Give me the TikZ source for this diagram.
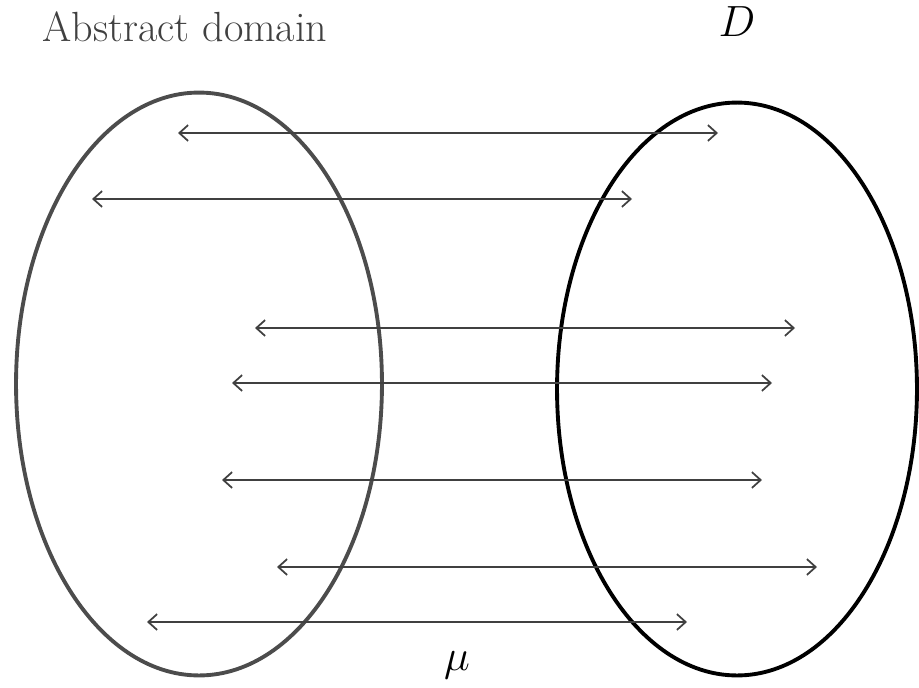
\documentclass[tikz,border=0pt]{standalone}
\usepackage{amsmath}
\usepackage{xcolor}
\usetikzlibrary{arrows.meta, shapes.geometric}

\begin{document}
\begin{tikzpicture}[
    x=0.02cm, y=-0.02cm,
    setbox/.style={draw, ellipse, line width=2.2pt, inner sep=0pt},
    pair/.style={{Straight Barb[length=5pt,width=9pt]}-{Straight Barb[length=5pt,width=9pt]}, line width=1pt, draw=black!75},
    txt/.style={inner sep=0pt, font=\fontsize{24}{28}\selectfont}
]
\useasboundingbox (0,0) rectangle (919,687);

% Domains
\node (abs) [setbox, draw=black!70, minimum width=7.32cm, minimum height=11.66cm] at (199,384) {};
\node (dom) [setbox, minimum width=7.2cm, minimum height=11.46cm] at (737,389) {};

% Labels
\node (abslabel) [txt, text=black!75] at (185,27) {Abstract domain};
\node (domlabel) [txt] at (737,22) {$D$};
\node (mu) [txt] at (457,665) {$\mu$};

% Arrow ends
\coordinate (a1) at (178,133); \coordinate (b1) at (718,133);
\coordinate (a2) at (92,199);  \coordinate (b2) at (632,199);
\coordinate (a3) at (255,328); \coordinate (b3) at (795,328);
\coordinate (a4) at (232,383); \coordinate (b4) at (772,383);
\coordinate (a5) at (222,480); \coordinate (b5) at (762,480);
\coordinate (a6) at (277,567); \coordinate (b6) at (817,567);
\coordinate (a7) at (147,622); \coordinate (b7) at (687,622);

% Correspondences
\draw[pair] (a1) -- (b1);
\draw[pair] (a2) -- (b2);
\draw[pair] (a3) -- (b3);
\draw[pair] (a4) -- (b4);
\draw[pair] (a5) -- (b5);
\draw[pair] (a6) -- (b6);
\draw[pair] (a7) -- (b7);

\end{tikzpicture}
\end{document}
